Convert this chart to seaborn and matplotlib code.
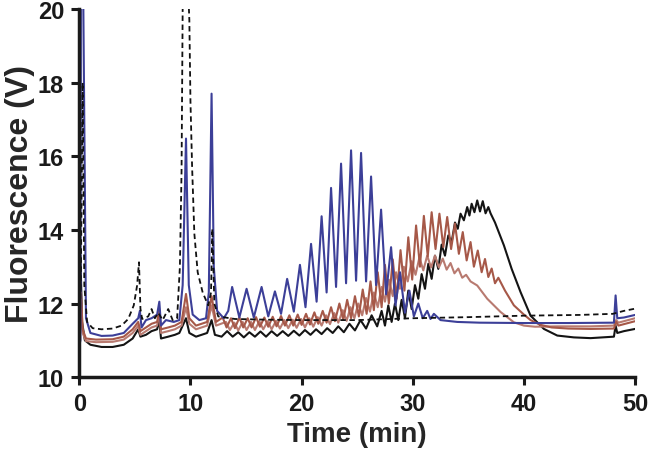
import matplotlib
matplotlib.use('Agg')
import matplotlib.pyplot as plt
import seaborn as sns
import pandas as pd

# traces as (time [min], fluorescence [V]) points

blue_trace = [
    (0.0, 10.85), (0.1, 11.0), (0.15, 22.0), (0.35, 20.5), (0.6, 11.6), (1.0, 11.2),
    (2.0, 11.12), (3.0, 11.13), (4.0, 11.2), (4.8, 11.45), (5.3, 11.6), (5.45, 11.8),
    (5.6, 11.35), (6.0, 11.55), (6.5, 11.6), (7.0, 11.7), (7.2, 12.05), (7.35, 11.4),
    (7.8, 11.55), (8.5, 11.5), (9.0, 11.55), (9.3, 12.5), (9.6, 16.48), (9.85, 12.5),
    (10.2, 11.7), (10.8, 11.55), (11.4, 11.6), (11.65, 12.3), (11.9, 17.7), (12.1, 13.0),
    (12.4, 11.8), (13.0, 11.6), (13.4, 11.8),
    (13.75, 12.45), (14.4, 11.62), (15.05, 12.4), (15.7, 11.62), (16.4, 12.45),
    (17.0, 11.65), (17.6, 12.33), (18.15, 11.72), (18.7, 12.67), (19.3, 11.78),
    (19.85, 13.05), (20.35, 11.9), (20.85, 13.62), (21.35, 12.05), (21.8, 14.37),
    (22.25, 12.3), (22.65, 15.14), (23.1, 12.45), (23.55, 15.8), (24.0, 12.55),
    (24.45, 16.16), (24.9, 12.62), (25.35, 16.09), (25.8, 12.6), (26.25, 15.45),
    (26.7, 12.5), (27.15, 14.55), (27.6, 12.25), (28.05, 13.53), (28.45, 11.95),
    (28.85, 12.85), (29.3, 11.75), (29.7, 12.35), (30.1, 11.65), (30.5, 12.0),
    (30.9, 11.6), (31.3, 11.8), (31.6, 11.58), (31.9, 11.72), (32.5, 11.55),
    (34.0, 11.5), (36.0, 11.48), (40.0, 11.47), (44.0, 11.47), (48.1, 11.48),
    (48.25, 12.22), (48.4, 11.6), (49.0, 11.62), (50.0, 11.69),
]

dashed_trace = [
    (0.0, 10.9), (0.15, 13.0), (0.3, 18.0), (0.45, 12.5), (0.7, 11.5), (1.2, 11.33),
    (2.0, 11.3), (3.0, 11.32), (3.8, 11.4), (4.4, 11.58), (4.9, 11.95), (5.2, 12.49),
    (5.37, 13.12), (5.5, 11.86), (5.65, 11.58), (6.2, 11.65), (6.5, 11.85), (6.8, 11.6),
    (7.1, 11.75), (7.5, 11.55), (8.0, 11.85), (8.4, 11.55), (8.8, 11.6), (9.05, 13.0),
    (9.2, 15.6), (9.3, 20.0), (9.55, 22.5), (9.9, 19.7), (10.0, 17.5), (10.15, 15.7),
    (10.35, 13.9), (10.65, 12.85), (11.1, 12.3), (11.6, 11.95), (11.85, 12.3),
    (11.97, 14.03), (12.15, 12.0), (12.5, 11.65), (14.0, 11.58), (17.0, 11.56),
    (20.0, 11.55), (25.0, 11.55), (30.0, 11.6), (35.0, 11.63), (40.0, 11.67),
    (45.0, 11.69), (48.0, 11.72), (49.0, 11.8), (50.0, 11.86),
]

black_trace = [
    (0.0, 10.7), (0.1, 13.3), (0.25, 11.5), (0.5, 11.0), (1.0, 10.88), (2.0, 10.82),
    (3.0, 10.82), (4.0, 10.88), (4.8, 11.05), (5.3, 11.3), (5.5, 11.1), (6.0, 11.15),
    (6.5, 11.25), (7.0, 11.3), (7.2, 11.55), (7.35, 11.05), (8.0, 11.1), (8.6, 11.15),
    (9.0, 11.2), (9.6, 11.6), (9.9, 11.2), (10.5, 11.1), (11.0, 11.15), (11.5, 11.2),
    (11.9, 11.55), (12.2, 11.15), (12.8, 11.1), (13.3, 11.25), (13.8, 11.1),
    (14.3, 11.22), (14.8, 11.08), (15.3, 11.22), (15.8, 11.1), (16.3, 11.24),
    (16.8, 11.1), (17.3, 11.25), (17.8, 11.12), (18.3, 11.25), (18.8, 11.12),
    (19.3, 11.26), (19.8, 11.13), (20.3, 11.28), (20.8, 11.15), (21.3, 11.3),
    (21.8, 11.17), (22.3, 11.33), (22.8, 11.2), (23.3, 11.38), (23.8, 11.22),
    (24.3, 11.45), (24.8, 11.27), (25.3, 11.55), (25.8, 11.32), (26.3, 11.68),
    (26.8, 11.38), (27.2, 11.8), (27.5, 11.4), (27.8, 11.95), (28.1, 11.5),
    (28.4, 12.0), (28.7, 11.55), (29.0, 12.1), (29.3, 11.6), (29.6, 12.35),
    (29.9, 11.85), (30.2, 12.5), (30.5, 12.13), (30.8, 12.8), (31.1, 12.4),
    (31.4, 13.08), (31.7, 12.67), (32.0, 13.3), (32.3, 12.94), (32.6, 13.6),
    (32.9, 13.3), (33.2, 13.85), (33.5, 13.67), (33.8, 14.2), (34.05, 14.03),
    (34.3, 14.44), (34.6, 14.26), (34.9, 14.62), (35.1, 14.39), (35.3, 14.71),
    (35.55, 14.48), (35.8, 14.8), (36.05, 14.5), (36.3, 14.78), (36.55, 14.45),
    (36.8, 14.62), (37.0, 14.45), (37.4, 14.2), (38.2, 13.58), (38.9, 12.94),
    (39.7, 12.31), (40.6, 11.67), (41.8, 11.31), (43.0, 11.13), (44.5, 11.08),
    (46.0, 11.06), (48.1, 11.1), (48.25, 11.4), (48.4, 11.2), (49.0, 11.25),
    (50.0, 11.31),
]

brown_trace = [
    (0.0, 10.75), (0.15, 12.3), (0.3, 11.3), (0.6, 11.05), (1.5, 11.02), (3.0, 11.03),
    (4.0, 11.1), (4.8, 11.3), (5.3, 11.5), (5.5, 11.25), (6.0, 11.35), (6.5, 11.45),
    (7.0, 11.5), (7.2, 11.85), (7.35, 11.3), (8.0, 11.35), (8.6, 11.4), (9.2, 11.5),
    (9.6, 12.26), (9.9, 11.6), (10.5, 11.4), (11.0, 11.45), (11.5, 11.5), (11.9, 12.2),
    (12.3, 11.5), (12.9, 11.62), (13.25, 11.35), (13.65, 11.6), (14.0, 11.33),
    (14.4, 11.62), (14.75, 11.35), (15.15, 11.6), (15.5, 11.35), (15.9, 11.63),
    (16.25, 11.37), (16.65, 11.62), (17.0, 11.37), (17.4, 11.64), (17.75, 11.38),
    (18.15, 11.66), (18.5, 11.4), (18.9, 11.68), (19.25, 11.4), (19.65, 11.7),
    (20.0, 11.42), (20.4, 11.72), (20.75, 11.43), (21.15, 11.76), (21.5, 11.45),
    (21.9, 11.8), (22.25, 11.48), (22.65, 11.9), (23.0, 11.52), (23.4, 12.0),
    (23.75, 11.56), (24.1, 12.1), (24.45, 11.6), (24.8, 12.2), (25.15, 11.65),
    (25.5, 12.38), (25.85, 11.72), (26.2, 12.6), (26.5, 11.82), (26.85, 12.85),
    (27.2, 11.9), (27.5, 13.05), (27.85, 12.0), (28.2, 13.2), (28.55, 12.13),
    (28.9, 13.45), (29.25, 12.35), (29.6, 13.8), (29.95, 12.65), (30.3, 14.12),
    (30.65, 13.0), (31.0, 14.38), (31.35, 13.28), (31.7, 14.48), (32.05, 13.48),
    (32.4, 14.44), (32.75, 13.53), (33.1, 14.35), (33.45, 13.48), (33.8, 14.17),
    (34.15, 13.35), (34.5, 13.94), (34.85, 13.17), (35.2, 13.67), (35.5, 13.0),
    (35.85, 13.44), (36.2, 12.85), (36.5, 13.21), (36.8, 12.72), (37.1, 12.95),
    (37.4, 12.55), (37.7, 12.7), (38.3, 12.35), (39.1, 11.95), (40.0, 11.7),
    (40.6, 11.55), (41.5, 11.42), (42.5, 11.35), (44.0, 11.32), (46.0, 11.31),
    (48.1, 11.32), (48.3, 11.5), (48.5, 11.4), (50.0, 11.52),
]

rose_trace = [
    (0.0, 10.65), (0.15, 12.0), (0.3, 11.2), (0.6, 10.98), (1.5, 10.95), (3.0, 10.96),
    (4.0, 11.02), (4.8, 11.2), (5.3, 11.4), (5.5, 11.15), (6.0, 11.25), (6.5, 11.35),
    (7.0, 11.4), (7.2, 11.75), (7.35, 11.2), (8.0, 11.25), (8.6, 11.3), (9.2, 11.4),
    (9.6, 11.9), (9.9, 11.45), (10.5, 11.3), (11.0, 11.35), (11.5, 11.4), (11.9, 11.95),
    (12.3, 11.4), (13.2, 11.5), (13.55, 11.28), (13.95, 11.48), (14.3, 11.27),
    (14.7, 11.5), (15.05, 11.28), (15.45, 11.5), (15.8, 11.28), (16.2, 11.52),
    (16.55, 11.3), (16.95, 11.52), (17.3, 11.3), (17.7, 11.53), (18.05, 11.32),
    (18.45, 11.55), (18.8, 11.33), (19.2, 11.56), (19.55, 11.34), (19.95, 11.58),
    (20.3, 11.35), (20.7, 11.6), (21.05, 11.37), (21.45, 11.63), (21.8, 11.4),
    (22.2, 11.68), (22.55, 11.44), (22.95, 11.74), (23.3, 11.48), (23.7, 11.82),
    (24.05, 11.53), (24.4, 11.9), (24.75, 11.6), (25.1, 12.0), (25.45, 11.68),
    (25.8, 12.15), (26.15, 11.78), (26.5, 12.3), (26.85, 11.9), (27.2, 12.45),
    (27.5, 12.05), (27.85, 12.65), (28.2, 12.2), (28.5, 12.85), (28.85, 12.4),
    (29.2, 13.0), (29.55, 12.6), (29.9, 13.15), (30.25, 12.78), (30.6, 13.25),
    (30.95, 12.9), (31.3, 13.3), (31.65, 12.98), (32.0, 13.3), (32.35, 12.98),
    (32.7, 13.22), (33.05, 12.92), (33.4, 13.1), (33.75, 12.82), (34.1, 12.95),
    (34.45, 12.7), (34.8, 12.78), (35.2, 12.6), (35.8, 12.49), (36.7, 12.13),
    (37.9, 11.77), (39.1, 11.49), (40.0, 11.4), (41.0, 11.37), (43.0, 11.38),
    (46.0, 11.38), (48.1, 11.4), (48.3, 11.55), (48.5, 11.48), (50.0, 11.6),
]

x_ticks = [0, 10, 20, 30, 40, 50]
y_ticks = [10, 12, 14, 16, 18, 20]

sns.set_style("ticks")
plt.rcParams['font.family'] = ['Liberation Sans', 'DejaVu Sans']
plt.rcParams['font.weight'] = 'bold'

fig = plt.figure(figsize=(6.5, 4.64), dpi=100)
ax = fig.add_axes([0.122, 0.185, 0.855, 0.7935])


def to_frame(points):
    return pd.DataFrame(points, columns=['time', 'signal'])


# drawing order: lowest first
sns.lineplot(data=to_frame(black_trace), x='time', y='signal', sort=False,
             estimator=None, color='#141414', lw=1.5, ax=ax)
sns.lineplot(data=to_frame(rose_trace), x='time', y='signal', sort=False,
             estimator=None, color='#b87a70', lw=1.5, ax=ax)
sns.lineplot(data=to_frame(brown_trace), x='time', y='signal', sort=False,
             estimator=None, color='#a65848', lw=1.5, ax=ax)
sns.lineplot(data=to_frame(blue_trace), x='time', y='signal', sort=False,
             estimator=None, color='#3c3f98', lw=1.5, ax=ax)
sns.lineplot(data=to_frame(dashed_trace), x='time', y='signal', sort=False,
             estimator=None, color='#111111', lw=1.3, ls=(0, (3, 2)), ax=ax)

ax.set_xlim(0, 50)
ax.set_ylim(10, 20)
ax.set_xticks(x_ticks)
ax.set_yticks(y_ticks)
ax.set_xticklabels([str(t) for t in x_ticks], fontsize=17, fontweight='bold')
ax.set_yticklabels([str(t) for t in y_ticks], fontsize=17, fontweight='bold')
ax.tick_params(direction='out', length=6, width=2.2, colors='#1a1a1a', pad=5)

ax.set_xlabel('Time (min)', fontsize=20, fontweight='bold', labelpad=4)
ax.set_ylabel('Fluorescence (V)', fontsize=23, fontweight='bold', labelpad=2)

sns.despine(ax=ax)
for side in ['left', 'bottom']:
    ax.spines[side].set_linewidth(2.5)
    ax.spines[side].set_color('#1a1a1a')

fig.savefig('out.png', dpi=100)
